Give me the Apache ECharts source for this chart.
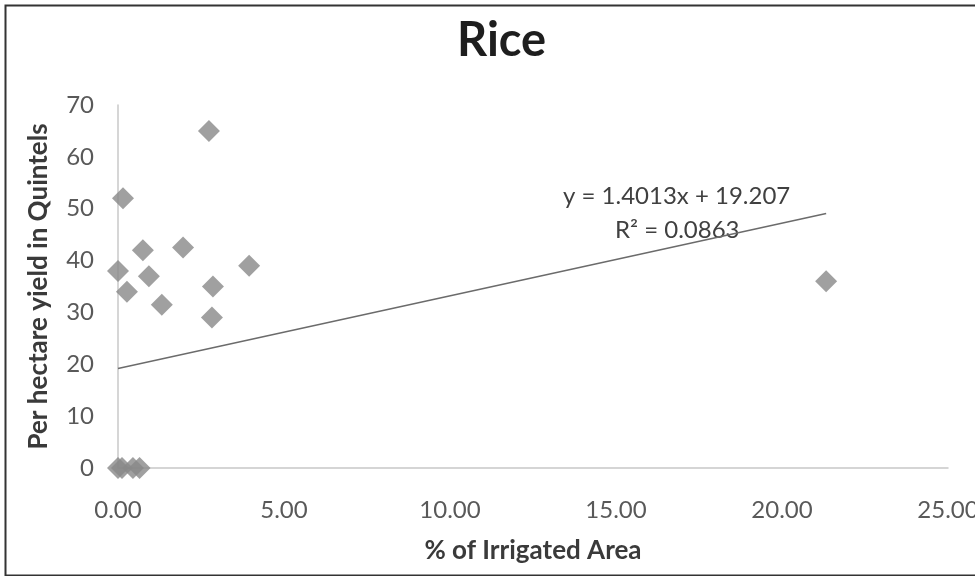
<!DOCTYPE html>
<html><head><meta charset="utf-8">
<script src="https://cdn.jsdelivr.net/npm/echarts@6/dist/echarts.min.js"></script>
<style>html,body{margin:0;padding:0;background:#fff}#c{width:975px;height:576px}</style>
</head><body><div id="c"></div>
<script>
const irrigated = [2.74, 0.15, 0.75, 1.96, 0.00, 0.93, 0.27, 3.95, 2.86, 1.32, 2.83, 0.00, 0.12, 0.45, 0.65, 21.33];
const yieldQ   = [65.0, 52.0, 42.0, 42.5, 38.0, 37.0, 34.0, 39.0, 35.0, 31.5, 29.0, 0, 0, 0, 0, 36.0];
const slope = 1.4013, intercept = 19.207;
const trendX = [0, 21.33];
const xTicks = [0, 5, 10, 15, 20, 25];
const yTicks = [0, 10, 20, 30, 40, 50, 60, 70];

const font = 'Lato, "Open Sans", sans-serif';
const chart = echarts.init(document.getElementById('c'));
chart.setOption({
  animation: false,
  backgroundColor: '#fff',
  title: { text: 'Rice', left: 452, top: 12, textStyle: { fontFamily: font, fontSize: 47, fontWeight: 'bold', color: '#1e1e1e' } },
  grid: { left: 118, right: 27, top: 105, bottom: 108, containLabel: false, outerBoundsMode: 'none' },
  xAxis: {
    type: 'value', min: xTicks[0], max: xTicks[xTicks.length-1], interval: 5,
    name: '% of Irrigated Area', nameLocation: 'middle', nameGap: 70,
    nameTextStyle: { fontFamily: font, fontSize: 26, fontWeight: 'bold', color: '#3a3a3a' },
    axisLine: { lineStyle: { color: '#c8c8c8', width: 1.5 } },
    axisTick: { show: false }, splitLine: { show: false },
    axisLabel: { formatter: v => v.toFixed(2), fontFamily: font, fontSize: 24, color: '#595959', margin: 30 }
  },
  yAxis: {
    type: 'value', min: yTicks[0], max: yTicks[yTicks.length-1], interval: 10,
    name: 'Per hectare yield in Quintels', nameLocation: 'middle', nameGap: 66, nameRotate: 90,
    nameTextStyle: { fontFamily: font, fontSize: 26, fontWeight: 'bold', color: '#3a3a3a' },
    axisLine: { show: true, onZero: false, lineStyle: { color: '#c8c8c8', width: 1.5 } },
    axisTick: { show: false }, splitLine: { show: false },
    axisLabel: { fontFamily: font, fontSize: 24, color: '#595959', margin: 24 }
  },
  series: [
    { type: 'line', data: trendX.map(x => [x, slope * x + intercept]), symbol: 'none',
      lineStyle: { color: '#6b6b6b', width: 1.5 }, z: 1 },
    { type: 'scatter', data: irrigated.map((x, i) => [x, yieldQ[i]]), symbol: 'diamond', symbolSize: [22, 22],
      itemStyle: { color: '#888888' }, z: 2 }
  ],
  graphic: [
    { type: 'rect', left: 3, top: 3, shape: { width: 985, height: 570 }, style: { fill: 'none', stroke: '#333', lineWidth: 2 } },
    { type: 'text', left: 563, top: 184, style: { text: 'y = 1.4013x + 19.207', font: '24px ' + font, fill: '#404040' } },
    { type: 'text', left: 615, top: 218, style: { text: 'R² = 0.0863', font: '24px ' + font, fill: '#404040' } }
  ]
});
</script></body></html>
